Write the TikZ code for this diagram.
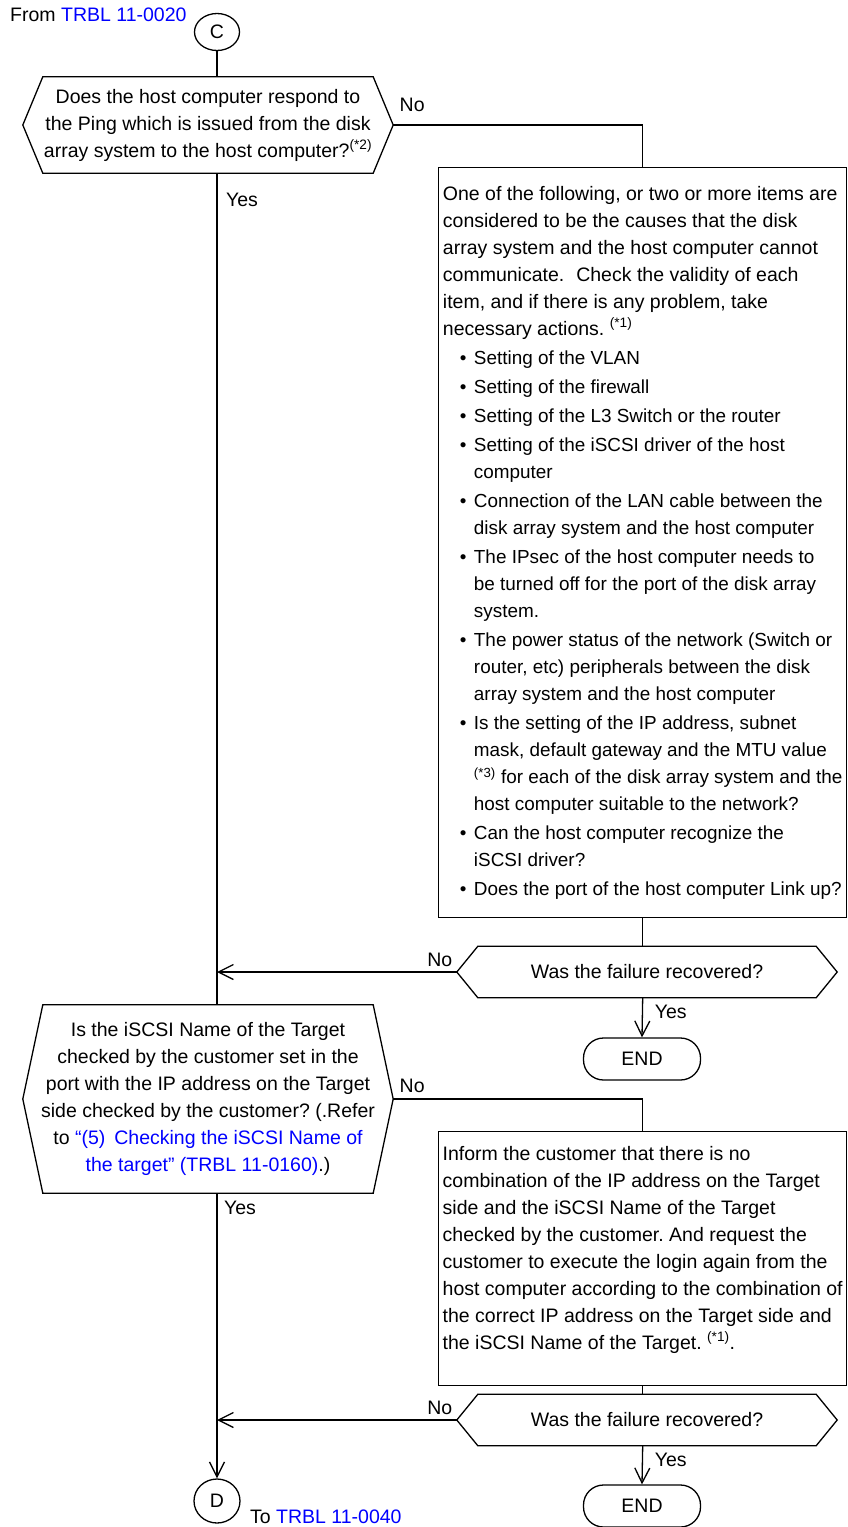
\documentclass[tikz,border=0pt]{standalone}
\usepackage{fontspec}
\setmainfont{Liberation Sans}
\usepackage{tikz}
\usetikzlibrary{shapes.geometric, arrows.meta, positioning, calc}
\frenchspacing
\definecolor{refblue}{RGB}{0,0,255}
\newcommand{\flowfont}{\fontsize{19.5}{27}\selectfont}
\newcommand{\itemfont}{\fontsize{18.9}{27}\selectfont}
\newcommand{\bul}{\itemfont\hspace*{17pt}\makebox[14pt][l]{•}}
\newcommand{\ind}{\itemfont\hspace*{31pt}}
\newcommand{\note}[1]{\textsuperscript{#1}}
% hexagon outline around a decision node (#2 = length of the side points)
\newcommand{\hexframe}[2]{%
  \draw[line width=1.3pt] ([xshift=#2pt]#1.north west) -- ([xshift=-#2pt]#1.north east) -- (#1.east)
    -- ([xshift=-#2pt]#1.south east) -- ([xshift=#2pt]#1.south west) -- (#1.west) -- cycle;}
\tikzset{
    flowline/.style={line width=1.3pt},
    flowarrow/.style={line width=1.3pt, -{Straight Barb[length=15pt,width=15pt]}},
    procbox/.style={draw, line width=1.4pt, align=left, inner sep=3pt, minimum width=408pt, anchor=north west},
    askbox/.style={align=center, inner sep=0pt},
    endbox/.style={draw, rounded corners=20pt, line width=1.3pt, minimum width=117pt, minimum height=42pt},
    connector/.style={draw, ellipse, line width=1.3pt, inner sep=0pt},
    lbl/.style={inner sep=0pt},
}

\begin{document}
\begin{tikzpicture}[x=1pt, y=-1pt, font=\flowfont]
\path[use as bounding box, fill=white] (0,0) rectangle (848,1527);

% Entry connector
\node[lbl, anchor=west] (from) at (10,15) {From \textcolor{refblue}{TRBL 11-0020}};
\node[connector, minimum width=45pt, minimum height=37pt] (C) at (217,32) {C};

% Ping check
\node[askbox, minimum width=370pt, minimum height=96pt] (q1) at (208,125) {Does the host computer respond to\\the Ping which is issued from the disk\\array system to the host computer?\note{(*2)}};
\hexframe{q1}{20}

% Causes of the communication failure
\node[procbox, minimum height=750pt] (chk) at (438,167) {One of the following, or two or more items are\\
considered to be the causes that the disk\\
array system and the host computer cannot\\
communicate.\hspace*{12pt}Check the validity of each\\
item, and if there is any problem, take\\
necessary actions. \note{(*1)}\\[2pt]
\bul Setting of the VLAN\\[2pt]
\bul Setting of the firewall\\[2pt]
\bul Setting of the L3 Switch or the router\\[2pt]
\bul Setting of the iSCSI driver of the host\\
\ind computer\\[2pt]
\bul Connection of the LAN cable between the\\
\ind disk array system and the host computer\\[2pt]
\bul The IPsec of the host computer needs to\\
\ind be turned off for the port of the disk array\\
\ind system.\\[2pt]
\bul The power status of the network (Switch or\\
\ind router, etc) peripherals between the disk\\
\ind array system and the host computer\\[2pt]
\bul Is the setting of the IP address, subnet\\
\ind mask, default gateway and the MTU value\\
\ind\note{(*3)} for each of the disk array system and the\\
\ind host computer suitable to the network?\\[2pt]
\bul Can the host computer recognize the\\
\ind iSCSI driver?\\[2pt]
\bul Does the port of the host computer Link up?};

\node[askbox, minimum width=380pt, minimum height=51pt] (rec1) at (647,972) {Was the failure recovered?};
\hexframe{rec1}{21}
\node[endbox] (end1) at (642,1059) {END};

% Target name check
\node[askbox, minimum width=370pt, minimum height=188pt] (q2) at (208,1099) {Is the iSCSI Name of the Target\\
checked by the customer set in the\\
port with the IP address on the Target\\
side checked by the customer? (.Refer\\
to \textcolor{refblue}{“(5)\hspace*{9pt}Checking the iSCSI Name of}\\
\textcolor{refblue}{the target” (TRBL 11-0160)}.)};
\hexframe{q2}{20}

\node[procbox, minimum height=254pt] (inf) at (438,1131) {Inform the customer that there is no\\
combination of the IP address on the Target\\
side and the iSCSI Name of the Target\\
checked by the customer. And request the\\
customer to execute the login again from the\\
host computer according to the combination of\\
the correct IP address on the Target side and\\
the iSCSI Name of the Target. \note{(*1)}.\\[-5pt]\mbox{}};

\node[askbox, minimum width=380pt, minimum height=51pt] (rec2) at (647,1420) {Was the failure recovered?};
\hexframe{rec2}{21}
\node[endbox] (end2) at (642,1506) {END};

% Exit connector
\node[connector, minimum width=46pt, minimum height=44pt] (D) at (217,1501) {D};
\node[lbl, anchor=west] (to) at (250,1517) {To \textcolor{refblue}{TRBL 11-0040}};

% Branch labels
\node[lbl] (no1) at ($(q1.east)+(19,-20)$) {No};
\node[lbl] (yes1) at ($(q1.south -| C)+(25,27)$) {Yes};
\node[lbl] (no2) at ($(rec1.west)+(-17,-12)$) {No};
\node[lbl] (yes2) at ($(rec1.south -| chk.south)+(28,14)$) {Yes};
\node[lbl] (no3) at ($(q2.east)+(19,-13)$) {No};
\node[lbl] (yes3) at ($(q2.south -| C)+(23,15)$) {Yes};
\node[lbl] (no4) at ($(rec2.west)+(-17,-12)$) {No};
\node[lbl] (yes4) at ($(rec2.south -| inf.south)+(28,14)$) {Yes};

% Main flow
\draw[flowline] (C) -- (C |- q1.north);
\draw[flowline] (q1.south -| C) -- (q2.north -| C);
\draw[flowarrow] (q2.south -| C) -- (D);

% No branch of the ping check
\draw[flowline] (q1.east) -| (chk.north);
\draw[flowline] (chk.south) -- (chk.south |- rec1.north);
\draw[flowarrow] (rec1.west) -- (rec1.west -| C);
\draw[flowarrow] (rec1.south -| chk.south) -- (end1.north);

% No branch of the target name check
\draw[flowline] (q2.east) -| (inf.north);
\draw[flowline] (inf.south) -- (inf.south |- rec2.north);
\draw[flowarrow] (rec2.west) -- (rec2.west -| C);
\draw[flowarrow] (rec2.south -| inf.south) -- (end2.north);
\end{tikzpicture}
\end{document}
